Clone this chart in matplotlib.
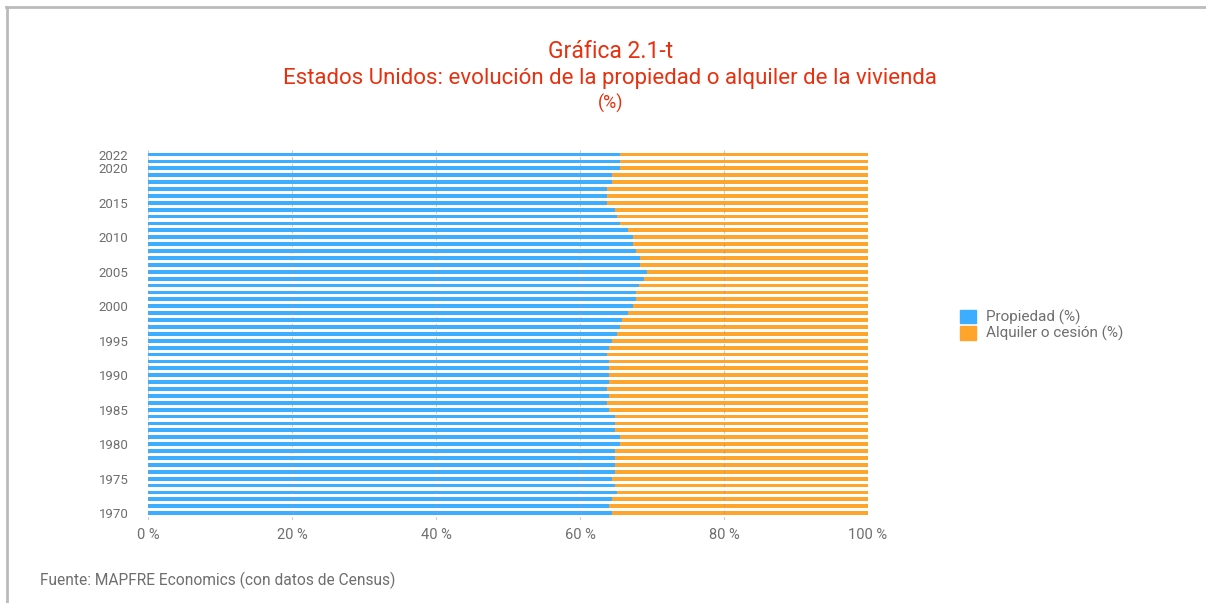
import matplotlib
matplotlib.use("Agg")
from matplotlib import pyplot as plt
from matplotlib.patches import Patch
from matplotlib.lines import Line2D

years = list(range(1970, 2023))
propiedad = [64.4, 64.0, 64.4, 65.1, 64.8, 64.4, 64.8, 64.8, 64.8, 64.8,
             65.6, 65.6, 64.8, 64.8, 64.8, 64.0, 63.7, 64.0, 63.7, 64.0,
             64.0, 64.0, 64.0, 63.7, 64.0, 64.4, 65.1, 65.6, 65.9, 66.7,
             67.3, 67.8, 67.8, 68.2, 68.9, 69.3, 68.4, 68.4, 67.8, 67.3,
             67.3, 66.7, 65.6, 65.1, 64.8, 63.7, 63.7, 63.7, 64.4, 64.4,
             65.6, 65.6, 65.6]
alquiler = [35.6, 36.0, 35.6, 34.9, 35.2, 35.6, 35.2, 35.2, 35.2, 35.2,
            34.4, 34.4, 35.2, 35.2, 35.2, 36.0, 36.3, 36.0, 36.3, 36.0,
            36.0, 36.0, 36.0, 36.3, 36.0, 35.6, 34.9, 34.4, 34.1, 33.3,
            32.7, 32.2, 32.2, 31.8, 31.1, 30.7, 31.6, 31.6, 32.2, 32.7,
            32.7, 33.3, 34.4, 34.9, 35.2, 36.3, 36.3, 36.3, 35.6, 35.6,
            34.4, 34.4, 34.4]
ytick_years = [1970, 1975, 1980, 1985, 1990, 1995, 2000, 2005, 2010, 2015, 2020, 2022]
xticks = [0, 20, 40, 60, 80, 100]

blue = "#3DAEFF"
orange = "#FFA52C"
red = "#E8300F"
gray = "#6E6E6E"

plt.rcParams["font.family"] = ["Roboto", "DejaVu Sans"]

fig = plt.figure(figsize=(12.06, 6.03), dpi=100)
ax = fig.add_axes([0.1227, 0.1376, 0.597, 0.6136])

ax.barh(years, propiedad, height=0.55, color=blue, linewidth=0)
ax.barh(years, alquiler, left=propiedad, height=0.55, color=orange, linewidth=0)

ax.set_xlim(0, 100)
ax.set_ylim(1969.0, 2022.65)
ax.set_xticks(xticks)
ax.set_xticklabels([f"{v} %" for v in xticks], fontsize=10.5, color=gray)
ax.set_yticks(ytick_years)
ax.set_yticklabels([str(y) for y in ytick_years], fontsize=9.5, color=gray)
ax.tick_params(length=0, pad=6)
ax.tick_params(axis="y", pad=14)
for s in ax.spines.values():
    s.set_visible(False)
ax.set_axisbelow(False)
ax.grid(axis="x", color="#999999", linestyle=(0, (3, 3)), linewidth=0.8, alpha=0.5)
ax.grid(axis="y", visible=False)

fig.text(0.506, 0.915, "Gráfica 2.1-t", ha="center", va="center", fontsize=16.5,
         color=red)
fig.text(0.506, 0.870, "Estados Unidos: evolución de la propiedad o alquiler de la vivienda",
         ha="center", va="center", fontsize=16, color=red)
fig.text(0.506, 0.829, "(%)", ha="center", va="center", fontsize=13, color=red)

handles = [Patch(color=blue, label="Propiedad (%)"),
           Patch(color=orange, label="Alquiler o cesión (%)")]
leg = fig.legend(handles=handles, loc="center left", bbox_to_anchor=(0.785, 0.46),
                 frameon=False, fontsize=11, handlelength=1.0, handleheight=1.0,
                 handletextpad=0.7, labelspacing=0.05)
for t in leg.get_texts():
    t.set_color(gray)

fig.text(0.033, 0.038, "Fuente: MAPFRE Economics (con datos de Census)",
         fontsize=11.2, color=gray, va="center")

fig.add_artist(Line2D([0.0058, 0.0058], [0.0, 0.988], color="#BBBBBB", linewidth=2,
                      transform=fig.transFigure))
fig.add_artist(Line2D([0.005, 1.0], [0.988, 0.988], color="#BBBBBB", linewidth=2,
                      transform=fig.transFigure))

fig.savefig("out.png", dpi=100)
